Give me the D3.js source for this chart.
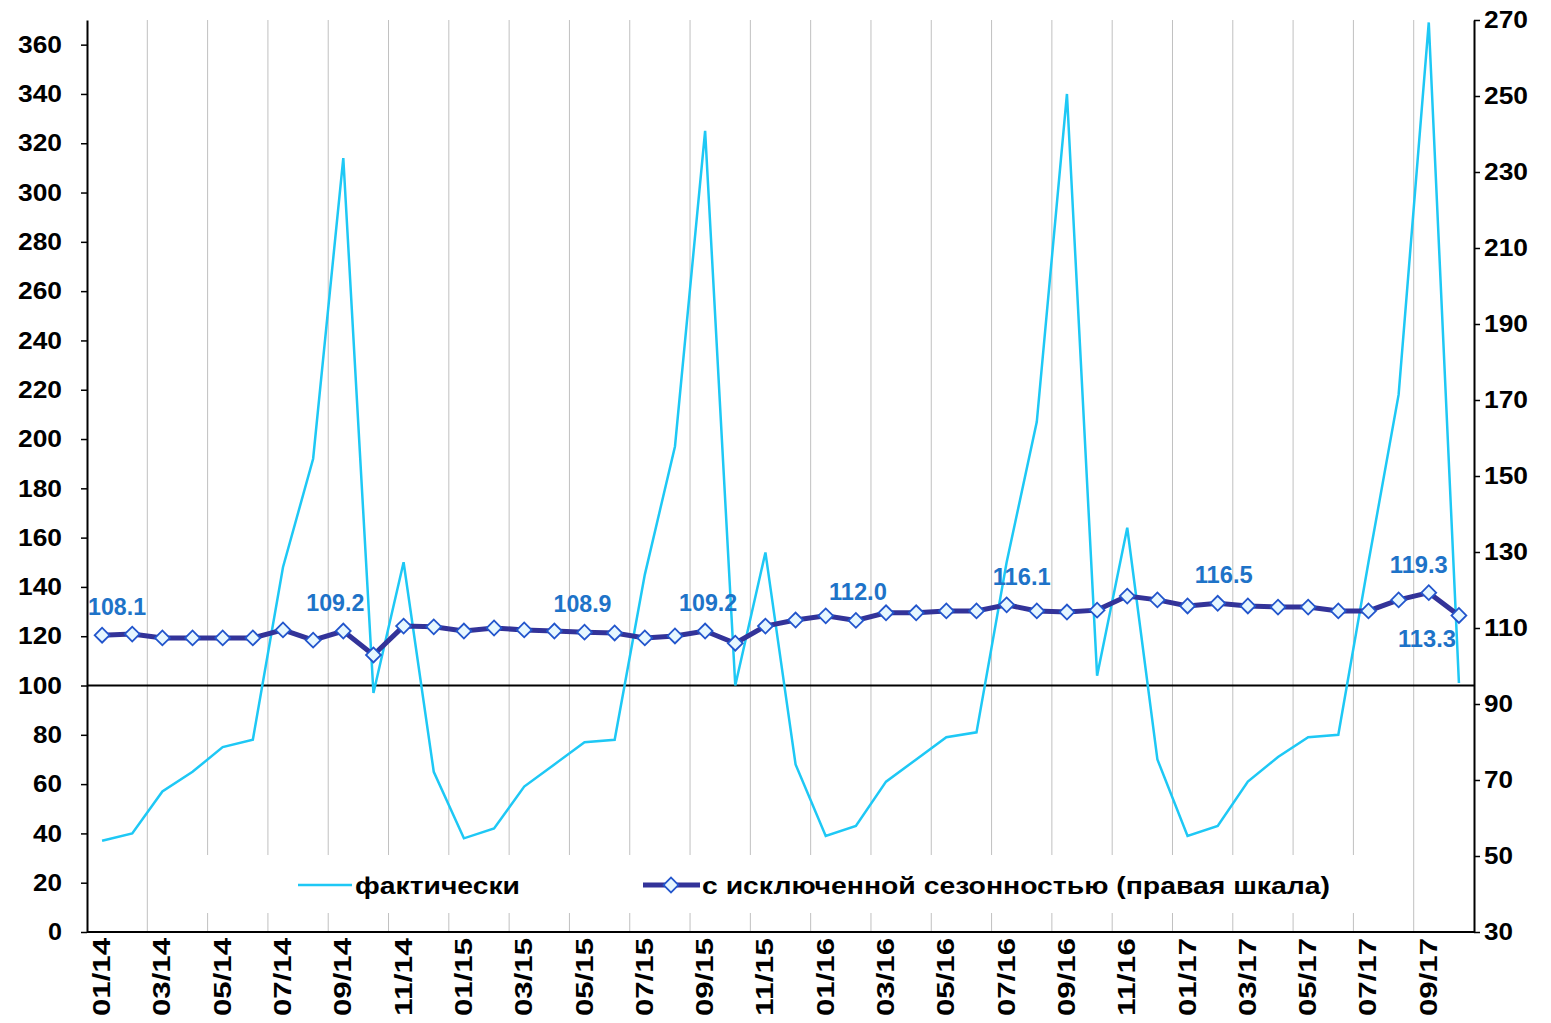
<!DOCTYPE html>
<html><head><meta charset="utf-8">
<script src="https://cdn.jsdelivr.net/npm/d3@7"></script>
<style>body{margin:0;background:#fff}text{font-family:Arial,"Liberation Sans",sans-serif;font-weight:bold}</style>
</head><body><div id="chart"></div>
<script>
var months = ["01/14","02/14","03/14","04/14","05/14","06/14","07/14","08/14","09/14","10/14","11/14","12/14",
 "01/15","02/15","03/15","04/15","05/15","06/15","07/15","08/15","09/15","10/15","11/15","12/15",
 "01/16","02/16","03/16","04/16","05/16","06/16","07/16","08/16","09/16","10/16","11/16","12/16",
 "01/17","02/17","03/17","04/17","05/17","06/17","07/17","08/17","09/17","10/17"]
var actual = [37,40,57,65,75,78,148,192,314,97,150,65, 38,42,59,68,77,78,145,197,325,100,154,68,
 39,43,61,70,79,81,150,207,340,104,164,70, 39,43,61,71,79,80,150,218,369,101]
var seasonal = [108.1,108.4,107.4,107.4,107.4,107.4,109.5,106.8,109.2,102.9,110.5,110.3,
 109.2,110,109.5,109.2,108.9,108.7,107.4,107.9,109.2,106,110.5,112.1,
 113.2,112.0,114,114,114.5,114.5,116.1,114.5,114.2,114.7,118.4,117.4,
 115.8,116.5,115.8,115.5,115.5,114.5,114.5,117.4,119.3,113.3]
var labelled = {0:"108.1",8:"109.2",16:"108.9",20:"109.2",25:"112.0",30:"116.1",37:"116.5",44:"119.3",45:"113.3"}
var leftTicks = d3.range(0,361,20), rightTicks = d3.range(30,271,20)

// label placement (style, not data)
var labOff = {0:[15,-20],8:[-8,-20],16:[-2,-20],20:[3,-20],25:[2,-20],30:[15,-20],37:[6,-20],44:[-10,-20],45:[-32,32]}

var L=87, R=1474, T=20, B=932
var svg = d3.select("#chart").append("svg").attr("width",1551).attr("height",1023)
var x = d3.scaleBand().domain(months).range([L,R])
var yl = d3.scaleLinear().domain([0,370]).range([B,T])
var yr = d3.scaleLinear().domain([30,270]).range([B,T])

svg.selectAll(".grid").data(months.filter(function(d,i){return i%2==0 && i>0}))
 .enter().append("line").attr("x1",function(d){return x(d)}).attr("x2",function(d){return x(d)})
 .attr("y1",T).attr("y2",B).attr("stroke","#c0c0c0").attr("stroke-width",1)

function styleAxis(g){
 g.selectAll("text").attr("font-size",24).attr("fill","#000").attr("lengthAdjust","spacingAndGlyphs")
 g.select(".domain").attr("stroke-width",2)
 g.selectAll(".tick line").attr("stroke-width",1.5)
}
svg.append("g").attr("transform","translate("+L+",0)")
 .call(d3.axisLeft(yl).tickValues(leftTicks).tickSize(6).tickSizeOuter(0)).call(styleAxis)
 .selectAll("text").attr("textLength",function(d){return d>=100?44:(d>=10?29:14)}).attr("x",-25)
svg.append("g").attr("transform","translate("+R+",0)")
 .call(d3.axisRight(yr).tickValues(rightTicks).tickSize(6).tickSizeOuter(0)).call(styleAxis)
 .selectAll("text").attr("textLength",function(d){return d>=100?44:29}).attr("x",10)

svg.append("line").attr("x1",L).attr("x2",R).attr("y1",B).attr("y2",B).attr("stroke","#000").attr("stroke-width",2)
svg.append("line").attr("x1",L).attr("x2",R).attr("y1",yl(100)).attr("y2",yl(100)).attr("stroke","#000").attr("stroke-width",2)
svg.selectAll(".xl").data(months.filter(function(d,i){return i%2==0})).enter().append("text")
 .attr("transform",function(d){return "translate("+(x(d)+x.bandwidth()/2+8)+","+(B+6)+") rotate(-90)"})
 .attr("text-anchor","end").attr("font-size",24).attr("textLength",78).attr("lengthAdjust","spacingAndGlyphs")
 .text(function(d){return d})

svg.append("rect").attr("x",175).attr("y",855).attr("width",1225).attr("height",58).attr("fill","#fff")

var cx = function(d,i){return x(months[i])+x.bandwidth()/2}
svg.append("path").datum(actual).attr("fill","none").attr("stroke","#1ec8f5").attr("stroke-width",2.5)
 .attr("d",d3.line().x(cx).y(function(d){return yl(d)}))
svg.append("path").datum(seasonal).attr("fill","none").attr("stroke","#333399").attr("stroke-width",5)
 .attr("d",d3.line().x(cx).y(function(d){return yr(d)}))
var diamond = d3.symbol().type(d3.symbolSquare).size(110)
svg.selectAll(".pt").data(seasonal).enter().append("path").attr("d",diamond)
 .attr("transform",function(d,i){return "translate("+cx(d,i)+","+yr(d)+") rotate(45)"})
 .attr("fill","#e6f7ff").attr("stroke","#2255cc").attr("stroke-width",1.8)
svg.selectAll(".lab").data(Object.keys(labelled)).enter().append("text")
 .attr("x",function(k){return cx(0,+k)+labOff[k][0]})
 .attr("y",function(k){return yr(seasonal[k])+labOff[k][1]})
 .attr("text-anchor","middle").attr("font-size",24).attr("textLength",58).attr("lengthAdjust","spacingAndGlyphs")
 .attr("fill","#1e73c8").text(function(k){return labelled[k]})

svg.append("line").attr("x1",298).attr("x2",352).attr("y1",885).attr("y2",885).attr("stroke","#1ec8f5").attr("stroke-width",2.5)
svg.append("text").attr("x",355).attr("y",894).attr("font-size",24).attr("textLength",165).attr("lengthAdjust","spacingAndGlyphs").text("фактически")
svg.append("line").attr("x1",643).attr("x2",700).attr("y1",885).attr("y2",885).attr("stroke","#333399").attr("stroke-width",5)
svg.append("path").attr("d",diamond).attr("transform","translate(671,885) rotate(45)").attr("fill","#e6f7ff").attr("stroke","#2255cc").attr("stroke-width",1.8)
svg.append("text").attr("x",702).attr("y",894).attr("font-size",24).attr("textLength",628).attr("lengthAdjust","spacingAndGlyphs").text("с исключенной сезонностью (правая шкала)")
</script></body></html>
